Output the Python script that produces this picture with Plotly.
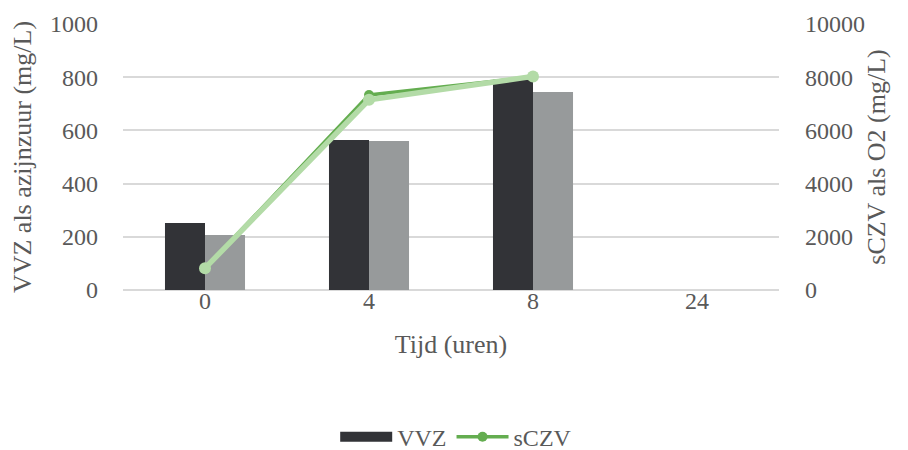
import plotly.graph_objects as go

categories = ["0", "4", "8", "24"]
vvz_a = [252, 564, 790, None]
vvz_b = [207, 560, 744, None]
sczv_a = [820, 7330, 8010, None]
sczv_b = [820, 7150, 8030, None]

FONT = "Palatino Linotype, Book Antiqua, Palatino, Liberation Serif, serif"
GREY = "#595959"
TICK = 24
TITLE = 26
DARK = "#323337"

fig = go.Figure()
fig.add_trace(go.Bar(x=categories, y=vvz_a, name="VVZ", marker_color=DARK,
                     marker_line_width=0, showlegend=False, legendgroup="vvz"))
fig.add_trace(go.Bar(x=categories, y=vvz_b, name="VVZ2", marker_color="#979a9b",
                     marker_line_width=0, showlegend=False))
# legend entry for VVZ (wide rectangle symbol)
fig.add_trace(go.Scatter(x=[None], y=[None], name="VVZ", mode="lines",
                         line=dict(color=DARK, width=12), legendgroup="vvz",
                         hoverinfo="skip"))
fig.add_trace(go.Scatter(x=categories, y=sczv_a, name="sCZV", yaxis="y2",
                         mode="lines+markers", line=dict(color="#64ad50", width=3.5),
                         marker=dict(size=10, color="#64ad50")))
fig.add_trace(go.Scatter(x=categories, y=sczv_b, name="sCZV2", yaxis="y2",
                         mode="lines+markers", line=dict(color="#b3dba7", width=5.5),
                         marker=dict(size=12, color="#b3dba7"), showlegend=False))

fig.update_layout(
    width=900, height=442,
    margin=dict(l=115, r=129, t=16, b=160, autoexpand=False),
    paper_bgcolor="white", plot_bgcolor="white",
    font=dict(family=FONT, size=TICK, color=GREY),
    barmode="group", bargap=0.512, bargroupgap=0,
    showlegend=True,
    legend=dict(orientation="h", x=0.498, xanchor="center", xref="container",
                y=0.029, yanchor="middle", yref="container",
                font=dict(size=TICK, color=GREY), itemwidth=52, traceorder="normal"),
    xaxis=dict(type="category", showgrid=False, showline=False, zeroline=False,
               automargin=False,
               ticks="", ticklabelstandoff=-6, tickfont=dict(size=TICK, color=GREY),
               title=dict(text="Tijd (uren)", font=dict(size=TITLE, color=GREY), standoff=21)),
    yaxis=dict(range=[0, 1000], dtick=200, showgrid=True, gridcolor="#d9d9d9", gridwidth=1.5,
               zeroline=True, zerolinecolor="#d9d9d9", zerolinewidth=1.5, showline=False,
               automargin=False,
               ticks="", ticklabelstandoff=24, tickfont=dict(size=TICK, color=GREY),
               title=dict(text="VVZ als azijnzuur (mg/L)", font=dict(size=TITLE, color=GREY), standoff=10)),
    yaxis2=dict(range=[0, 10000], dtick=2000, overlaying="y", side="right",
                showgrid=False, zeroline=False, showline=False, tickformat="d",
                automargin=False,
                ticks="", ticklabelstandoff=25, tickfont=dict(size=TICK, color=GREY),
                title=dict(text="sCZV als O2 (mg/L)", font=dict(size=TITLE, color=GREY), standoff=2)),
)

fig.write_html("out.html")
